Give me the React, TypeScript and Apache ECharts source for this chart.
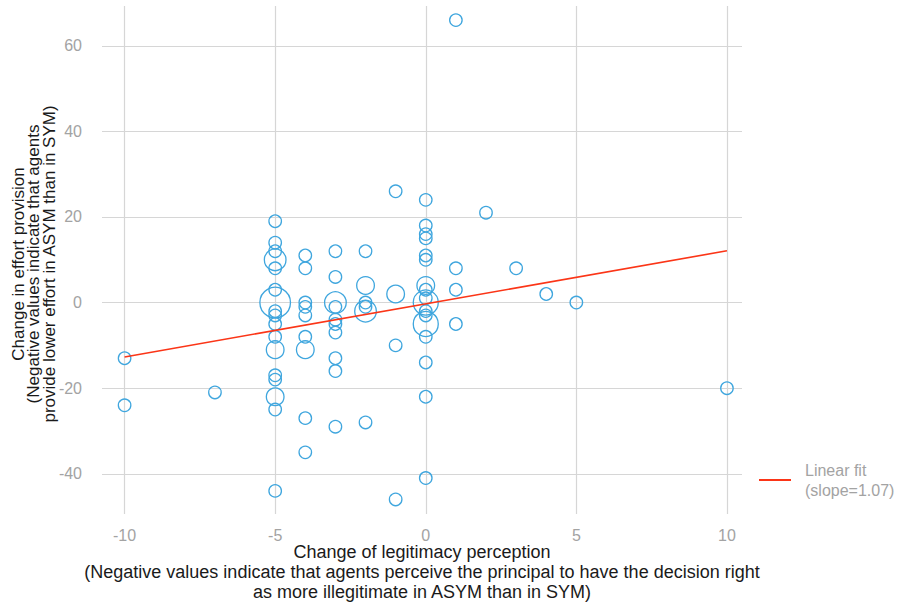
import React, { useEffect, useRef } from "react";
import * as echarts from "echarts";

// Change of legitimacy perception (x), change in effort (y), number of agents at that point
const pointX = [
  -10, -10,
  -7,
  -5, -5, -5, -5, -5, -5, -5, -5, -5, -5, -5, -5, -5, -5, -5, -5, -5,
  -4, -4, -4, -4, -4, -4, -4, -4, -4,
  -3, -3, -3, -3, -3, -3, -3, -3, -3, -3,
  -2, -2, -2, -2, -2, -2,
  -1, -1, -1, -1,
  0, 0, 0, 0, 0, 0, 0, 0, 0, 0, 0, 0, 0, 0, 0, 0, 0,
  1, 1, 1, 1,
  2, 3, 4, 5, 10,
];
const pointY = [
  -13, -24,
  -21,
  19, 14, 12, 10, 8, 3, 0, -2, -3, -5, -8, -11, -17, -18, -22, -25, -44,
  11, 8, 0, -1, -3, -8, -11, -27, -35,
  12, 6, 0, -1, -4, -5, -7, -13, -16, -29,
  12, 4, 0, -1, -2, -28,
  26, 2, -10, -46,
  24, 18, 16, 15, 11, 10, 4, 3, 1, 0, -2, -3, -5, -8, -14, -22, -41,
  66, 8, 3, -5,
  21, 8, 2, 0, -20,
];
const pointCount = [
  1, 1,
  1,
  1, 1, 1, 3, 1, 1, 6, 1, 1, 1, 1, 2, 1, 1, 2, 1, 1,
  1, 1, 1, 1, 1, 1, 2, 1, 1,
  1, 1, 3, 1, 1, 1, 1, 1, 1, 1,
  1, 2, 1, 1, 3, 1,
  1, 2, 1, 1,
  1, 1, 1, 1, 1, 1, 2, 1, 1, 4, 1, 1, 4, 1, 1, 1, 1,
  1, 1, 1, 1,
  1, 1, 1, 1, 1,
];

// Linear fit endpoints as drawn
const fitX = [-10, 10];
const fitY = [-12.7, 12.1];

const xTicks = [-10, -5, 0, 5, 10];
const yTicks = [-40, -20, 0, 20, 40, 60];

const xTitle =
  "Change of legitimacy perception\n(Negative values indicate that agents perceive the principal to have the decision right\nas more illegitimate in ASYM than in SYM)";
const yTitle =
  "Change in effort provision\n(Negative values indicate that agents\nprovide lower effort in ASYM than in SYM)";
const fitName = "Linear fit";
const fitLabel = "Linear fit\n(slope=1.07)";

export default function App() {
  const ref = useRef<HTMLDivElement>(null);

  useEffect(() => {
    if (!ref.current) return;
    const chart = echarts.init(ref.current, null, { renderer: "svg" });
    const FONT = "'Liberation Sans', Arial, Helvetica, sans-serif";
    const scatterData = pointX.map((x, i) => [x, pointY[i], pointCount[i]]);
    const fitData = fitX.map((x, i) => [x, fitY[i]]);
    const gridLine = { show: true, lineStyle: { color: "#d6d6d6", width: 1.2 } };

    chart.setOption({
      animation: false,
      backgroundColor: "#ffffff",
      textStyle: { fontFamily: FONT },
      grid: {
        left: 102,
        right: 164,
        top: 6,
        bottom: 91,
        containLabel: false,
        outerBoundsMode: "none",
      },
      legend: {
        data: [fitName],
        left: 759,
        top: 460,
        padding: 0,
        orient: "vertical",
        icon: "rect",
        itemWidth: 32,
        itemHeight: 2,
        formatter: () => fitLabel,
        textStyle: {
          color: "#a3a3a3",
          fontSize: 16,
          lineHeight: 20,
          fontFamily: FONT,
          padding: [0, 0, 0, 9],
        },
      },
      xAxis: {
        type: "value",
        min: -10.75,
        max: 10.5,
        axisLine: { show: false },
        axisTick: { show: false, customValues: xTicks },
        axisLabel: {
          customValues: xTicks,
          color: "#a3a3a3",
          fontSize: 16,
          margin: 13,
          fontFamily: FONT,
        },
        splitLine: gridLine,
        name: xTitle,
        nameLocation: "middle",
        nameGap: 28,
        nameMoveOverlap: false,
        nameTextStyle: {
          color: "#1a1a1a",
          fontSize: 18,
          lineHeight: 20,
          fontFamily: FONT,
          align: "center",
        },
      },
      yAxis: {
        type: "value",
        min: -49.4,
        max: 69.3,
        axisLine: { show: false },
        axisTick: { show: false, customValues: yTicks },
        axisLabel: {
          customValues: yTicks,
          color: "#a3a3a3",
          fontSize: 16,
          margin: 20,
          fontFamily: FONT,
        },
        splitLine: gridLine,
        name: yTitle,
        nameLocation: "middle",
        nameGap: 45,
        nameMoveOverlap: false,
        nameTextStyle: {
          color: "#1a1a1a",
          fontSize: 17,
          lineHeight: 15.5,
          fontFamily: FONT,
          align: "center",
          padding: [0, 8, 0, 0],
        },
      },
      series: [
        {
          type: "scatter",
          name: "Agents",
          data: scatterData,
          symbol: "circle",
          symbolSize: (v: number[]) => 12.5 * Math.sqrt(v[2]),
          itemStyle: {
            color: "rgba(0,0,0,0)",
            borderColor: "#3fa6de",
            borderWidth: 1.3,
            opacity: 1,
          },
          emphasis: { disabled: true },
          z: 2,
        },
        {
          type: "line",
          name: fitName,
          data: fitData,
          showSymbol: false,
          symbol: "none",
          lineStyle: { color: "#fb3517", width: 1.6 },
          itemStyle: { color: "#fb3517" },
          z: 3,
        },
      ],
    });

    return () => chart.dispose();
  }, []);

  return (
    <div
      ref={ref}
      style={{ position: "fixed", left: 0, top: 0, width: 906, height: 605 }}
    />
  );
}
